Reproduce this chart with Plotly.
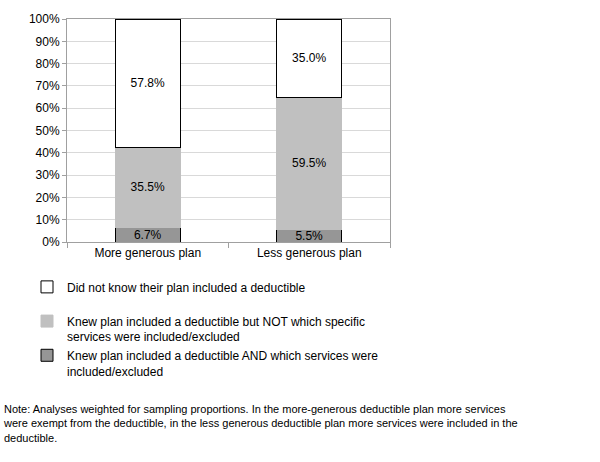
import plotly.graph_objects as go

# categories and values (percent)
plans = ["More generous plan", "Less generous plan"]
knew_all = [6.7, 5.5]
knew_not_which = [35.5, 59.5]
did_not_know = [57.8, 35.0]

names = [
    "Knew plan included a deductible AND which services were<br>included/excluded",
    "Knew plan included a deductible but NOT which specific<br>services were included/excluded",
    "Did not know their plan included a deductible<br> ",
]
y_ticks = [0, 10, 20, 30, 40, 50, 60, 70, 80, 90, 100]

font_fam = "Liberation Sans, Arial, sans-serif"

# plot area in pixels (for placing legend / note in paper units)
L, R, T, B = 67, 210, 16, 220
PW, PH = 600 - L - R, 462 - T - B


def main():
    fig = go.Figure()

    series = [
        (knew_all, "#969696", "black"),
        (knew_not_which, "#c0c0c0", "#c0c0c0"),
        (did_not_know, "white", "black"),
    ]
    for (vals, fill, edge), nm in zip(series, names):
        fig.add_trace(go.Bar(
            x=plans, y=vals, name=nm,
            marker=dict(color=fill, line=dict(color=edge, width=1)),
            text=[f"{v:.1f}%" for v in vals],
            textposition="inside", insidetextanchor="middle",
            textfont=dict(color="black", size=12, family=font_fam),
        ))

    fig.update_layout(
        barmode="stack",
        bargap=0.6,
        width=600, height=462,
        margin=dict(l=L, r=R, t=T, b=B),
        paper_bgcolor="white", plot_bgcolor="white",
        font=dict(family=font_fam, size=12, color="black"),
        uniformtext=dict(minsize=12, mode="show"),
        legend=dict(
            x=(27 - L) / PW, y=-(273 - (T + PH)) / PH,
            xanchor="left", yanchor="top",
            traceorder="reversed",
            valign="top",
            itemwidth=30,
            font=dict(size=12),
            tracegroupgap=2,
        ),
        annotations=[dict(
            xref="paper", yref="paper",
            x=-(L - 1) / PW, y=-(403 - (T + PH)) / PH,
            xanchor="left", yanchor="top", align="left",
            showarrow=False,
            font=dict(size=11),
            text=("Note: Analyses weighted for sampling proportions. In the more-generous deductible plan more services<br>"
                  "were exempt from the deductible, in the less generous deductible plan more services were included in the<br>"
                  "deductible."),
        )],
    )
    fig.update_xaxes(
        showline=True, linecolor="#a0a0a0", mirror=True,
        ticks="outside", tickson="boundaries", ticklen=5, tickcolor="#a0a0a0",
        showgrid=False,
    )
    fig.update_yaxes(
        range=[0, 100], tickvals=y_ticks, ticktext=[f"{t}%" for t in y_ticks],
        showline=True, linecolor="#a0a0a0", mirror=True,
        showgrid=True, gridcolor="#d9d9d9",
        ticks="outside", ticklen=4, tickcolor="#a0a0a0",
        zeroline=False,
    )

    fig.write_html("out.html", config={"displayModeBar": False},
                   post_script="document.body.style.margin='0';")


if __name__ == "__main__":
    main()
